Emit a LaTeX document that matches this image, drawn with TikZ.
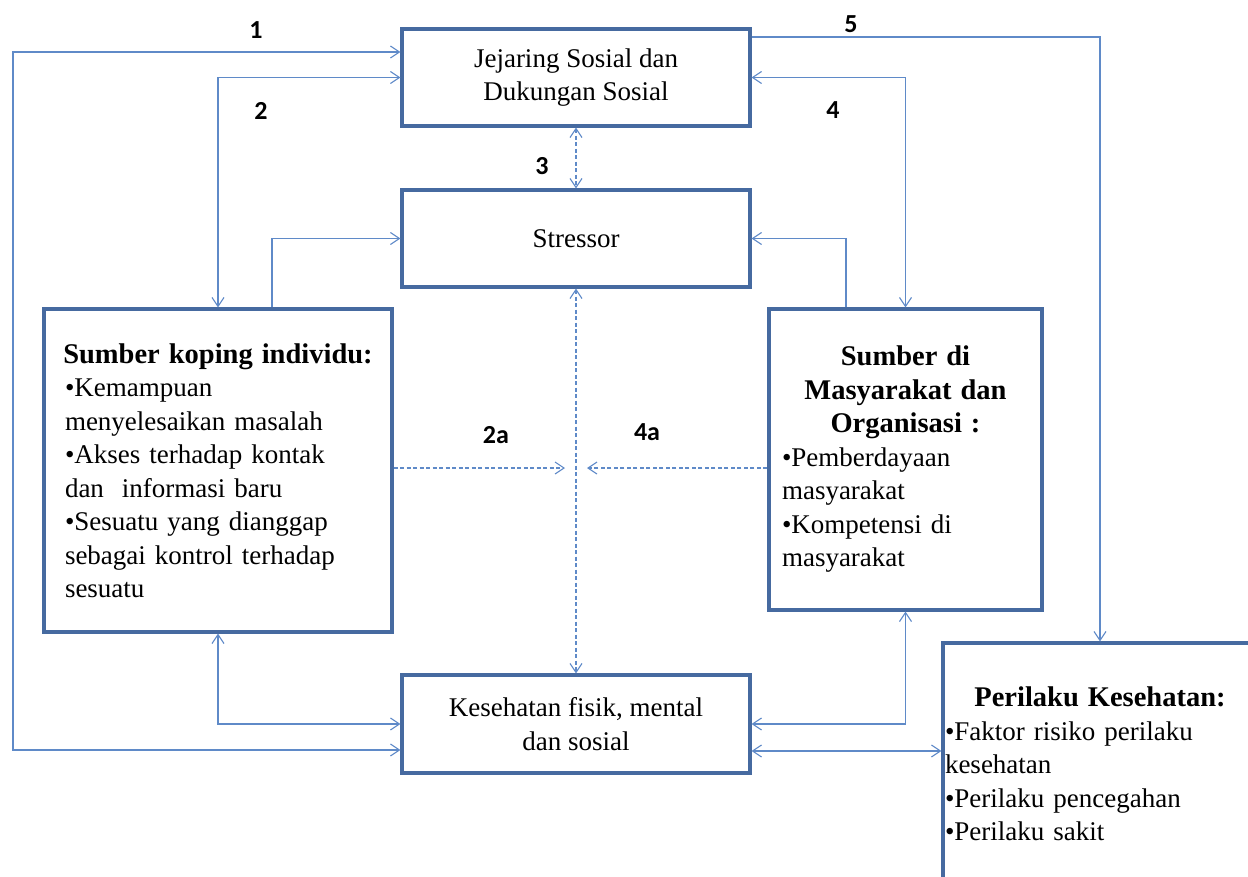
\documentclass[tikz,border=0pt]{standalone}
\usepackage{fontspec}
\setmainfont{Liberation Serif}
\newfontfamily\numfont{Carlito}
\usetikzlibrary{arrows.meta,calc}

\definecolor{boxblue}{RGB}{70,106,160}
\definecolor{linkblue}{RGB}{95,138,200}

% bold heading inside a box, centred across the given width
\newcommand{\boxhead}[2]{\makebox[#1][c]{\fontsize{28.5}{33.5}\selectfont\bfseries #2}}

\tikzset{
  box/.style={draw=boxblue, line width=3.2pt, fill=white, inner sep=0pt,
    font=\fontsize{27}{33.5}\selectfont},
  link/.style={draw=linkblue, line width=1.1pt,
    >={Straight Barb[length=9pt,width=12pt]}},
  fine/.style={dash pattern=on 4pt off 2.5pt},
  numlabel/.style={font=\numfont\bfseries\fontsize{26}{30}\selectfont, inner sep=0pt},
  bodytext/.style={inner sep=0pt, font=\fontsize{27}{33.5}\selectfont}
}

\begin{document}
\begin{tikzpicture}[x=1pt,y=-1pt]
\useasboundingbox (0,0) rectangle (1248,876);
\clip (0,0) rectangle (1248,876);

% boxes
\node[box, minimum width=348, minimum height=97, align=center] (jej) at (576,77.5)
  {Jejaring Sosial dan\\Dukungan Sosial};
\node[box, minimum width=348, minimum height=97] (str) at (576,238.5) {Stressor};
\node[box, minimum width=348, minimum height=323, text width=306, align=left] (left) at (218,470.5)
  {\boxhead{306pt}{Sumber koping individu:}\\
   •Kemampuan\\
   menyelesaikan masalah\\
   •Akses terhadap kontak\\
   dan\ \ informasi baru\\
   •Sesuatu yang dianggap\\
   sebagai kontrol terhadap\\
   sesuatu};
\node[box, minimum width=273, minimum height=301, text width=247, align=left] (right) at (905.5,459.5)
  {\boxhead{247pt}{Sumber di}\\
   \boxhead{247pt}{Masyarakat dan}\\
   \boxhead{247pt}{Organisasi :}\\
   •Pemberdayaan\\
   masyarakat\\
   •Kompetensi di\\
   masyarakat};
\node[box, minimum width=348, minimum height=98, align=center] (kes) at (576,724)
  {Kesehatan fisik, mental\\dan sosial};
\node[box, minimum width=314, minimum height=257] (per) at (1100,771.5) {};
\node[bodytext, text width=310, align=left] (pertext) at (1100,764)
  {\boxhead{310pt}{Perilaku Kesehatan:}\\
   •Faktor risiko perilaku\\
   kesehatan\\
   •Perilaku pencegahan\\
   •Perilaku sakit};

% helper points
\coordinate (farleft) at (13,400);
\coordinate (hub) at ($(str.south |- left.east)+(0,-2.5)$);
\coordinate (kp) at ($(kes.east)+(0,27)$);

% connectors
\draw[link,<->] ($(kes.west)+(0,26)$) -| (farleft) |- ($(jej.west)+(0,-25.5)$);
\draw[link,<->] (jej.west) -| (left.north);
\draw[link,<->] (jej.east) -| (right.north);
\draw[link,->] ($(jej.east)+(0,-40.5)$) -| (per.north);
\draw[link,->] ($(left.north)+(54,0)$) |- (str.west);
\draw[link,->] ($(right.north)+(-59.5,0)$) |- (str.east);
\draw[link,fine,<->] (jej.south) -- (str.north);
\draw[link,fine,<->] (str.south) -- (kes.north);
\draw[link,fine,->] ($(left.east)+(0,-2.5)$) -- ($(hub)+(-11,0)$);
\draw[link,fine,->] ($(right.west)+(0,8.5)$) -- ($(hub)+(11,0)$);
\draw[link,<->] (left.south) |- (kes.west);
\draw[link,<->] (right.south) |- (kes.east);
\draw[link,<->] (kp) -- (kp -| per.west);

% path numbers
\node[numlabel] (lab1) at (256,30) {1};
\node[numlabel] (lab2) at (261,111) {2};
\node[numlabel] (lab3) at (542,166) {3};
\node[numlabel] (lab4) at (833,110) {4};
\node[numlabel] (lab5) at (851,24) {5};
\node[numlabel] (lab2a) at (496,435) {2a};
\node[numlabel] (lab4a) at (647,432) {4a};
\end{tikzpicture}
\end{document}
